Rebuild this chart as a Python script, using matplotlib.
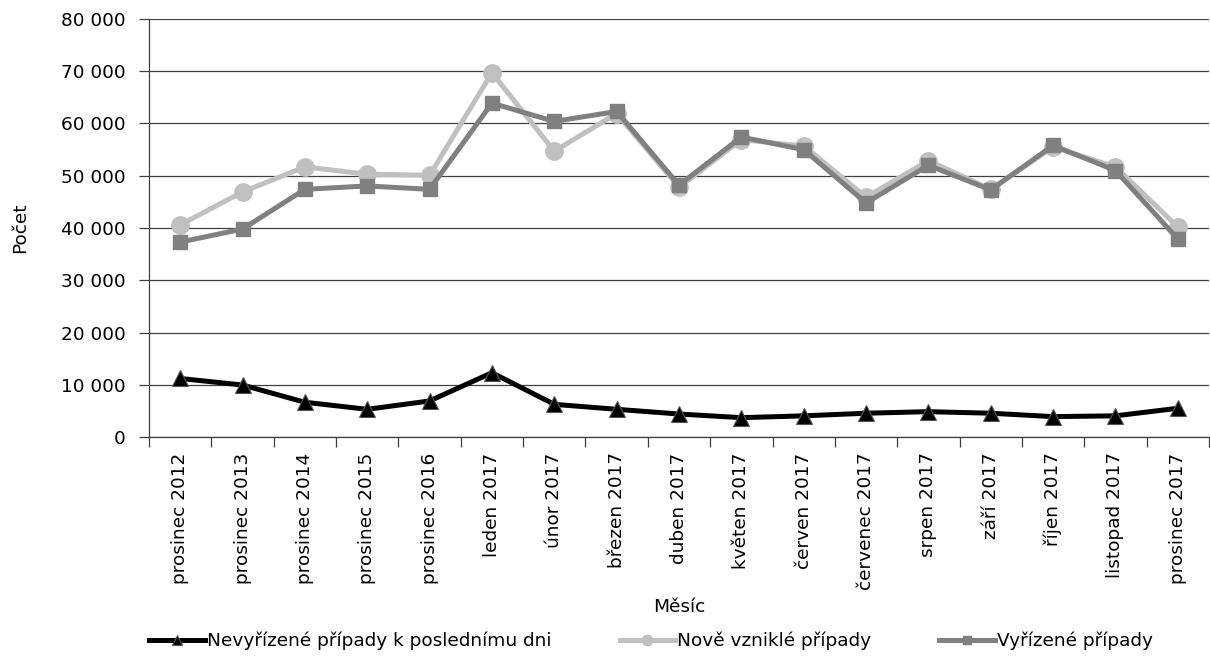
import matplotlib
matplotlib.use("Agg")
import matplotlib.pyplot as plt
from matplotlib.ticker import FuncFormatter, FixedLocator

plt.rcParams['font.family'] = ['DejaVu Sans']

months = ["prosinec 2012", "prosinec 2013", "prosinec 2014", "prosinec 2015",
          "prosinec 2016", "leden 2017", "únor 2017", "březen 2017", "duben 2017",
          "květen 2017", "červen 2017", "červenec 2017", "srpen 2017", "září 2017",
          "říjen 2017", "listopad 2017", "prosinec 2017"]

nevyrizene = [11200, 9950, 6650, 5300, 6900, 12300, 6250, 5300, 4400,
              3700, 4050, 4550, 4850, 4550, 3900, 4050, 5500]
nove = [40600, 46900, 51700, 50300, 50100, 69700, 54700, 61900, 47800,
        56900, 55700, 45900, 52900, 47400, 55500, 51700, 40200]
vyrizene = [37300, 39800, 47400, 48050, 47400, 63900, 60400, 62300, 48200,
            57400, 55000, 44800, 52000, 47300, 55800, 51000, 37900]

series_names = ["Nevyřízené případy k poslednímu dni", "Nově vzniklé případy", "Vyřízené případy"]

FS = 13.3

fig = plt.figure(figsize=(12.1, 6.66), dpi=100)
ax = fig.add_axes([149/1210, 1 - 437/666, 1060/1210, 418/666])

x = list(range(len(months)))
l1, = ax.plot(x, nevyrizene, color='black', lw=3.6, marker='^', ms=11,
              markerfacecolor='black', markeredgecolor='#555555', markeredgewidth=0.8,
              label=series_names[0], zorder=3)
l2, = ax.plot(x, nove, color='#C0C0C0', lw=3.6, marker='o', ms=12.5,
              markerfacecolor='#C0C0C0', markeredgecolor='#C0C0C0',
              label=series_names[1], zorder=4)
l3, = ax.plot(x, vyrizene, color='#808080', lw=3.6, marker='s', ms=9.5,
              markerfacecolor='#808080', markeredgecolor='#808080',
              label=series_names[2], zorder=5)

ax.set_xlim(-0.5, len(months) - 0.5)
ax.set_ylim(0, 80000)
ax.set_yticks(range(0, 80001, 10000))
ax.yaxis.set_major_formatter(FuncFormatter(lambda v, p: f"{int(v):,}".replace(",", " ")))
ax.set_xticks(x)
ax.set_xticklabels(months, rotation=90, fontsize=FS)
ax.xaxis.set_minor_locator(FixedLocator([i - 0.5 for i in range(len(months) + 1)]))
ax.tick_params(axis='x', which='major', length=0, pad=11)
ax.tick_params(axis='x', which='minor', length=7, width=0.9, color='#404040', direction='out')
ax.tick_params(axis='y', which='major', length=7, width=0.9, color='#404040',
               direction='out', labelsize=FS, pad=10)

ax.grid(axis='y', color='#404040', lw=0.9, zorder=0)
ax.set_axisbelow(True)
for s in ['top', 'right']:
    ax.spines[s].set_visible(False)
ax.spines['left'].set_color('#404040')
ax.spines['bottom'].set_color('#404040')
ax.spines['left'].set_linewidth(0.9)
ax.spines['bottom'].set_linewidth(0.9)

ax.set_ylabel("Počet", fontsize=FS)
ax.yaxis.set_label_coords((29 - 149) / 1060, 0.5)
ax.set_xlabel("Měsíc", fontsize=FS)
ax.xaxis.set_label_coords(0.5, (437 - 598) / 418)

fig.legend(handles=[l1, l2, l3], loc='center', bbox_to_anchor=(651/1210, 1 - 641/666),
           ncol=3, frameon=False, fontsize=FS, handlelength=3.0, handletextpad=0.1,
           columnspacing=3.7, markerscale=0.6)

fig.savefig("out.png", dpi=100)
